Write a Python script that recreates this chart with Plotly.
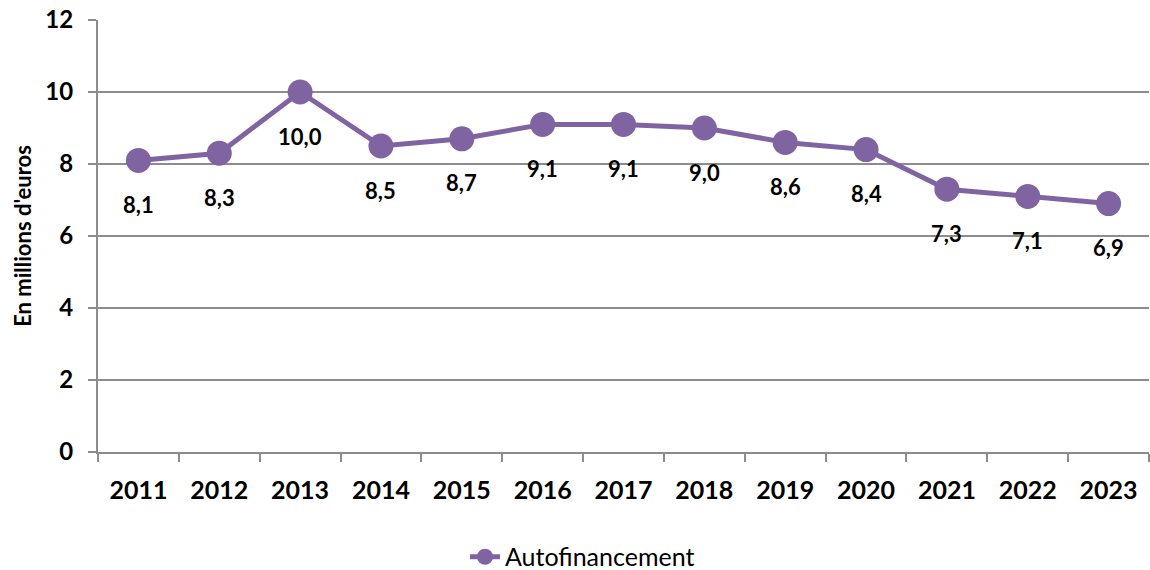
import plotly.graph_objects as go

years = ["2011", "2012", "2013", "2014", "2015", "2016", "2017", "2018", "2019", "2020", "2021", "2022", "2023"]
autofinancement = [8.1, 8.3, 10.0, 8.5, 8.7, 9.1, 9.1, 9.0, 8.6, 8.4, 7.3, 7.1, 6.9]
labels = ["8,1", "8,3", "10,0", "8,5", "8,7", "9,1", "9,1", "9,0", "8,6", "8,4", "7,3", "7,1", "6,9"]

PURPLE = "#8064A2"
GRID = "#8c8c8c"
FONT = "Lato, 'Open Sans', sans-serif"

fig = go.Figure()
fig.add_trace(go.Scatter(
    x=years, y=autofinancement, mode="lines+markers", name="Autofinancement",
    line=dict(color=PURPLE, width=5),
    marker=dict(color=PURPLE, size=25),
))

for i, (v, t) in enumerate(zip(autofinancement, labels)):
    fig.add_annotation(x=i, y=v, xref="x", yref="y", text=t, showarrow=False, yshift=-44,
                       font=dict(family=FONT, size=22, color="black", weight="bold"))

fig.update_layout(
    width=1150, height=570,
    margin=dict(l=98, r=1, t=20, b=118, autoexpand=False),
    plot_bgcolor="white", paper_bgcolor="white",
    font=dict(family=FONT, color="black"),
    showlegend=True,
    legend=dict(orientation="h", x=0.461, xanchor="center", y=-0.243, yanchor="middle",
                font=dict(family=FONT, size=25, color="black")),
)
fig.update_xaxes(
    type="category", range=[-0.5, 12.5], tickson="boundaries", automargin=False,
    ticks="outside", ticklen=8, tickcolor=GRID, tickwidth=2, ticklabelstandoff=15,
    showline=True, linecolor=GRID, linewidth=2, showgrid=False,
    tickfont=dict(family=FONT, size=25, color="black", weight="bold"),
)
fig.update_yaxes(
    range=[0, 12], dtick=2, ticks="outside", ticklen=8, tickcolor=GRID, tickwidth=2,
    ticklabelstandoff=10,
    showline=True, linecolor=GRID, linewidth=2, automargin=False,
    showgrid=True, gridcolor=GRID, gridwidth=2, zeroline=False,
    tickfont=dict(family=FONT, size=24, color="black", weight="bold"),
    title=dict(text="En millions d'euros", standoff=8,
               font=dict(family=FONT, size=22, color="black", weight="bold")),
)

post = ("document.body.style.margin='0';document.body.style.padding='0';"
        "document.body.style.overflow='hidden';"
        "var gd=document.getElementById('{plot_id}');"
        "Plotly.relayout(gd,{width:1150,height:570});")
fig.write_html("out.html", post_script=post,
               config={"responsive": False, "displayModeBar": False})
